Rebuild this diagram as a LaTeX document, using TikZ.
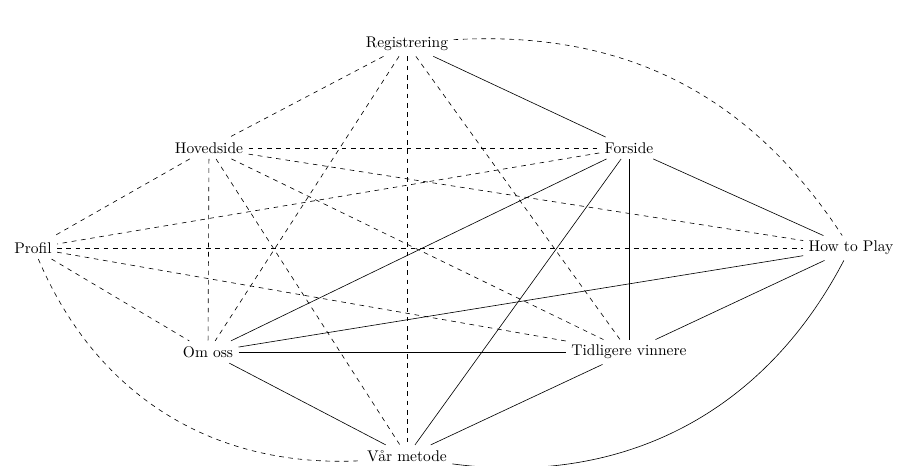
\documentclass[tikz,border=0pt]{standalone}
\begin{document}
\begin{tikzpicture}[x=0.645pt,y=-0.645pt,
  vtx/.style={inner sep=0.333em},
  dl/.style={dashed},
  sl/.style={}]
\useasboundingbox (0,0) rectangle (908,466);
\node[vtx] (R) at (407,44) {Registrering};
\node[vtx] (Hs) at (209,148) {Hovedside};
\node[vtx] (F) at (629,148) {Forside};
\node[vtx] (P) at (33,248) {Profil};
\node[vtx] (HP) at (851,248) {How to Play};
\node[vtx] (O) at (208,352) {Om oss};
\node[vtx] (T) at (629,352) {Tidligere vinnere};
\node[vtx] (V) at (407,456) {Vår metode};
% Registrering
\draw[dl] (R) -- (Hs);
\draw[dl] (R) -- (O);
\draw[dl] (R) -- (V);
\draw[dl] (R) -- (T);
\draw[sl] (R) -- (F);
\draw[dl] (R) to[bend left=30] (HP);
% Hovedside
\draw[dl] (Hs) -- (P);
\draw[dl] (Hs) -- (F);
\draw[dl] (Hs) -- (HP);
\draw[dl] (Hs) -- (T);
\draw[dl] (Hs) -- (V);
\draw[dl] (Hs) -- (O);
% Forside
\draw[dl] (F) -- (P);
\draw[sl] (F) -- (O);
\draw[sl] (F) -- (V);
\draw[sl] (F) -- (T);
\draw[sl] (F) -- (HP);
% Profil
\draw[dl] (P) -- (HP);
\draw[dl] (P) -- (T);
\draw[dl] (P) -- (O);
\draw[dl] (P) to[bend right=35] (V);
% How to Play
\draw[sl] (HP) -- (O);
\draw[sl] (HP) -- (T);
\draw[sl] (V) to[bend right=35] (HP);
% Om oss
\draw[sl] (O) -- (T);
\draw[sl] (O) -- (V);
% Tidligere vinnere
\draw[sl] (T) -- (V);
\end{tikzpicture}
\end{document}
